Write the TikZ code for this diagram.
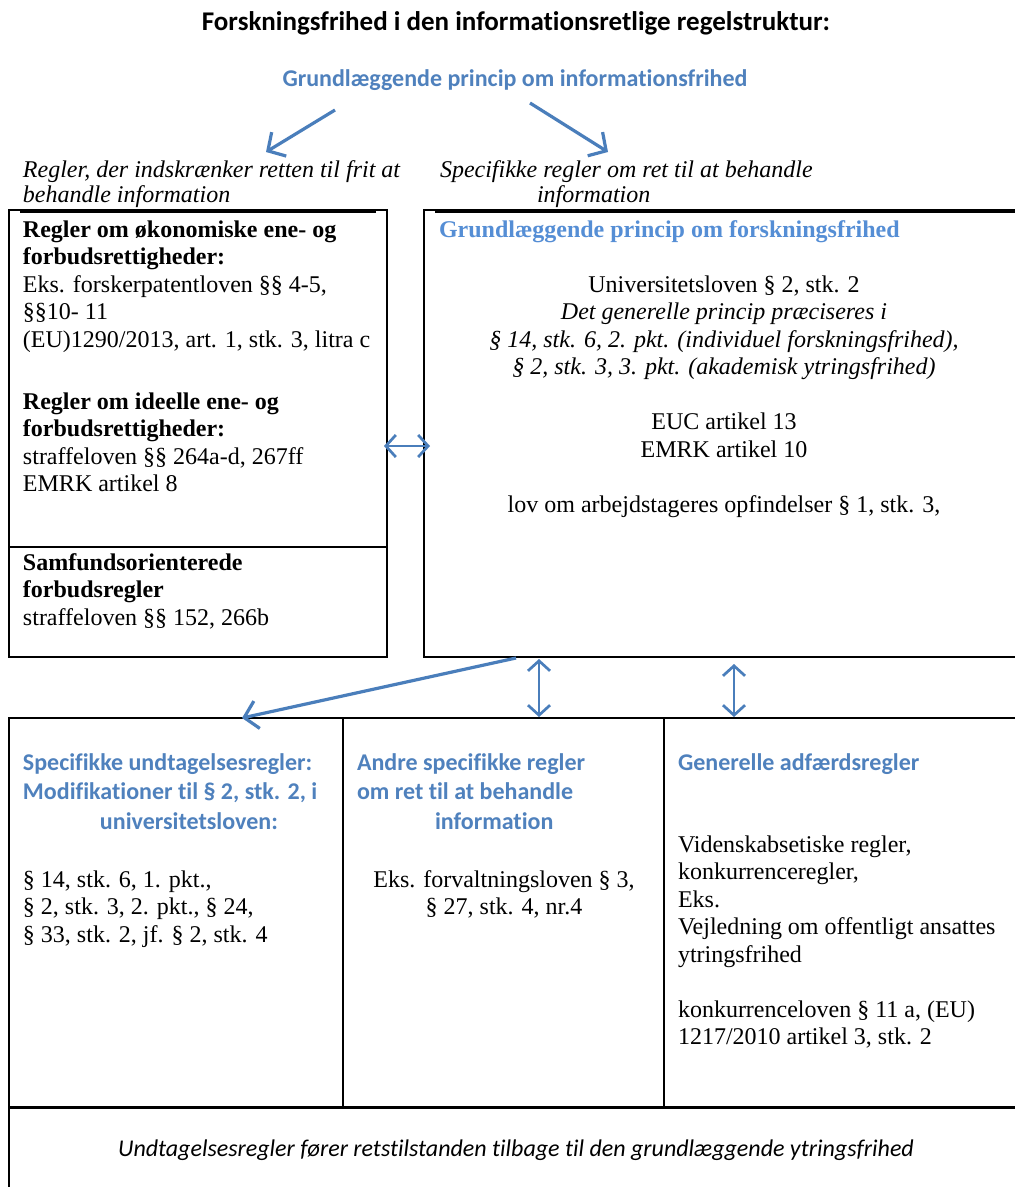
\documentclass[tikz,border=0pt]{standalone}
\usepackage{fontspec}
\setmainfont{Liberation Serif}
\newfontfamily\calfont[Ligatures={NoCommon}]{Carlito}
\usetikzlibrary{arrows.meta}
\definecolor{ablue}{HTML}{4A7EBB}
\definecolor{tblue}{HTML}{4F81BD}
\definecolor{hblue}{HTML}{558ED5}
\begin{document}
\begin{tikzpicture}[x=1pt,y=-1pt,
  body/.style={inner sep=0pt, outer sep=0pt, font=\fontsize{24}{27.5}\selectfont, align=left, anchor=base west},
  bodyc/.style={body, align=center, anchor=base},
  lab/.style={inner sep=0pt, outer sep=0pt, font=\itshape\fontsize{24}{25}\selectfont, align=left, anchor=base west},
  calb/.style={inner sep=0pt, outer sep=0pt, font=\calfont\bfseries\fontsize{24}{29.5}\selectfont, text=tblue, align=left, anchor=base west},
  frame/.style={draw, line width=2pt, inner sep=0pt, outer sep=0pt, anchor=north west},
  conn/.style={draw=ablue, line width=3.2pt, -{Straight Barb[length=13pt,width=28pt]}},
  dbl/.style={draw=ablue, line width=2.7pt, {Straight Barb[length=10pt,width=22pt]}-{Straight Barb[length=10pt,width=22pt]}}
]
\useasboundingbox (0,0) rectangle (1015,1187);
\fill[white] (0,0) rectangle (1015,1187);
\clip (0,0) rectangle (1015,1187);

% titles
\node[inner sep=0pt, font=\calfont\bfseries\fontsize{27}{30}\selectfont, anchor=base] (title) at (516,30) {Forskningsfrihed i den informationsretlige regelstruktur:};
\node[inner sep=0pt, font=\calfont\bfseries\fontsize{24}{28}\selectfont, text=tblue, anchor=base] (inf) at (515,86) {Grundlæggende princip om informationsfrihed};

% top labels (anchor = baseline of last line)
\node[lab] (lab1) at (23,202) {Regler, der indskrænker retten til frit at\\behandle information};
\node[lab] (lab2) at (440,202) {Specifikke regler om ret til at behandle\\\hspace*{97pt}information};

% upper frames
\node[frame, minimum width=378pt, minimum height=447pt] (lbox) at (9,210) {};
\draw[line width=4pt] (20,211) -- (376,211);
\draw[line width=2pt] (lbox.west |- 0,547) -- (lbox.east |- 0,547);
\node[frame, minimum width=620pt, minimum height=447pt] (rbox) at (424,210) {};
\draw[line width=4pt] (435,211) -- (1015,211);

% left box text
\node[body] (l1) at (23,347) {\textbf{Regler om økonomiske ene- og}\\\textbf{forbudsrettigheder:}\\Eks. forskerpatentloven §§ 4-5,\\§§10- 11\\(EU)1290/2013, art. 1, stk. 3, litra c};
\node[body] (l2) at (23,491.5) {\textbf{Regler om ideelle ene- og}\\\textbf{forbudsrettigheder:}\\straffeloven §§ 264a-d, 267ff\\EMRK artikel 8};
\node[body] (l3) at (23,625) {\textbf{Samfundsorienterede}\\\textbf{forbudsregler}\\straffeloven §§ 152, 266b};

% right box text
\node[body, text=hblue, font=\bfseries\fontsize{24}{27.5}\selectfont] (rh) at (439,237) {Grundlæggende princip om forskningsfrihed};
\node[bodyc] (r1) at (724,374.5) {Universitetsloven § 2, stk. 2\\\textit{Det generelle princip præciseres i}\\\textit{§ 14, stk. 6, 2. pkt. (individuel forskningsfrihed),}\\\textit{§ 2, stk. 3, 3. pkt. (akademisk ytringsfrihed)}};
\node[bodyc] (r2) at (724,457) {EUC artikel 13\\EMRK artikel 10};
\node[bodyc] (r3) at (724,512) {lov om arbejdstageres opfindelser § 1, stk. 3,};

% lower frames
\node[frame, minimum width=334pt, minimum height=389pt] (b1) at (9,718) {};
\node[frame, minimum width=321pt, minimum height=389pt] (b2) at (343,718) {};
\node[frame, minimum width=370pt, minimum height=389pt] (b3) at (664,718) {};
\node[frame, minimum width=1020pt, minimum height=120pt] (b4) at (9,1107) {};
\draw[line width=3pt] (b4.north west) -- (b4.north east);

% lower text
\node[calb] (h1) at (23,829) {Specifikke undtagelsesregler:\\Modifikationer til § 2, stk. 2, i\\\hspace*{77pt}universitetsloven:};
\node[calb] (h2) at (357,829) {Andre specifikke regler\\om ret til at behandle\\\hspace*{78pt}information};
\node[calb] (h3) at (678,770) {Generelle adfærdsregler};
\node[body] (t1) at (23,942) {§ 14, stk. 6, 1. pkt.,\\§ 2, stk. 3, 2. pkt., § 24,\\§ 33, stk. 2, jf. § 2, stk. 4};
\node[bodyc] (t2) at (504,914.5) {Eks. forvaltningsloven § 3,\\§ 27, stk. 4, nr.4};
\node[body] (t3) at (678,962) {Videnskabsetiske regler,\\konkurrenceregler,\\Eks.\\Vejledning om offentligt ansattes\\ytringsfrihed};
\node[body] (t4) at (678,1044.5) {konkurrenceloven § 11 a, (EU)\\1217/2010 artikel 3, stk. 2};
\node[inner sep=0pt, font=\calfont\itshape\fontsize{24}{28}\selectfont, anchor=base] (foot) at (516,1156) {Undtagelsesregler fører retstilstanden tilbage til den grundlæggende ytringsfrihed};

% connectors
\coordinate (s1) at (335,110); \coordinate (e1) at (266,152);
\coordinate (s2) at (530,103); \coordinate (e2) at (608,152);
\draw[conn] (s1) -- (e1);
\draw[conn] (s2) -- (e2);
\coordinate (hl) at (384,446); \coordinate (hr) at (430,446);
\draw[dbl] (hl) -- (hr);
\coordinate (ds) at (516,658); \coordinate (de) at (242,718);
\draw[conn] (ds) -- (de);
\coordinate (v1t) at (539,659); \coordinate (v1b) at (539,717);
\draw[dbl] (v1t) -- (v1b);
\coordinate (v2t) at (734,664); \coordinate (v2b) at (734,717);
\draw[dbl] (v2t) -- (v2b);
\end{tikzpicture}
\end{document}
